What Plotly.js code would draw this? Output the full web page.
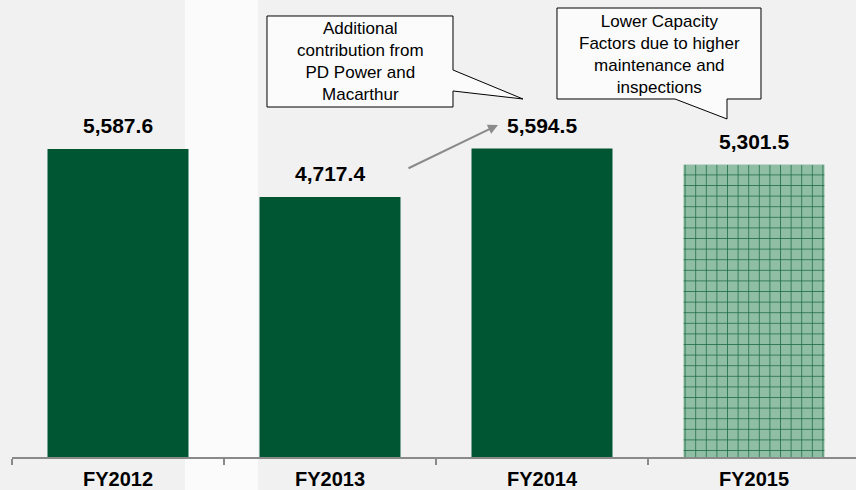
<!DOCTYPE html>
<html>
<head>
<meta charset="utf-8">
<script src="https://cdn.plot.ly/plotly-3.0.1.min.js"></script>
<style>html,body{margin:0;padding:0;background:#f1f1f1;}#chart{width:856px;height:490px;}</style>
</head>
<body>
<div id="chart"></div>
<script>
var categories = ["FY2012", "FY2013", "FY2014", "FY2015"];
var values = [5587.6, 4717.4, 5594.5, 5301.5];
var valueLabels = ["5,587.6", "4,717.4", "5,594.5", "5,301.5"];
var solidCats = categories.slice(0, 3);
var solidVals = values.slice(0, 3);
var patternCats = categories.slice(3);
var patternVals = values.slice(3);
var note1 = "Additional<br>contribution from<br>PD Power and<br>Macarthur";
var note2 = "Lower Capacity<br>Factors due to higher<br>maintenance and<br>inspections";

var W = 856, H = 490, L = 12, B = 33;
var PW = W - L, PH = H - B;
function px(x){ return (x - L) / PW; }
function py(y){ return (PH - y) / PH; }
function path(pts){
  return pts.map(function(p,i){ return (i ? "L" : "M") + px(p[0]).toFixed(5) + "," + py(p[1]).toFixed(5); }).join(" ") + " Z";
}

var FONT = "Liberation Sans, Arial, sans-serif";
var green = "#005632";

var traces = [
  {type: "bar", x: solidCats, y: solidVals, marker: {color: green}, hoverinfo: "skip", showlegend: false},
  {type: "bar", x: patternCats, y: patternVals, hoverinfo: "skip", showlegend: false,
   marker: {color: "#1d6a45", pattern: {shape: "+", size: 10.6, solidity: 0.14, fgcolor: "#1d6a45", bgcolor: "#8fbea4", fillmode: "replace"}}}
];

var annotations = categories.map(function(c, i){
  return {x: c, y: values[i], xref: "x", yref: "y", text: valueLabels[i], showarrow: false,
          yanchor: "middle", yshift: 23, font: {family: FONT, size: 21, color: "#000", weight: "bold"}};
});
annotations.push({xref: "paper", yref: "paper", x: px(360), y: py(62), text: note1, showarrow: false,
  xanchor: "center", yanchor: "middle", font: {family: FONT, size: 17, color: "#000"}});
annotations.push({xref: "paper", yref: "paper", x: px(659), y: py(54), text: note2, showarrow: false,
  xanchor: "center", yanchor: "middle", font: {family: FONT, size: 17, color: "#000"}});
annotations.push({xref: "paper", yref: "paper", x: px(498), y: py(125), axref: "pixel", ayref: "pixel",
  ax: 407 - 498, ay: 169 - 125, text: "", showarrow: true, arrowhead: 2, arrowsize: 1, arrowwidth: 2, arrowcolor: "#8a8a8a"});

var shapes = [
  {type: "rect", xref: "paper", yref: "paper", x0: px(185), x1: px(258), y0: py(490), y1: py(0),
   fillcolor: "rgba(255,255,255,0.7)", line: {width: 0}, layer: "below"},
  {type: "path", xref: "paper", yref: "paper",
   path: path([[267,16],[453,16],[453,70],[523,99],[453,91],[453,107],[267,107]]),
   fillcolor: "#fbfbfb", line: {color: "#000", width: 1}},
  {type: "path", xref: "paper", yref: "paper",
   path: path([[557,8],[761,8],[761,99],[727,99],[727,119],[675,99],[557,99]]),
   fillcolor: "#fbfbfb", line: {color: "#000", width: 1}}
];

var layout = {
  width: W, height: H,
  margin: {l: L, r: 0, t: 0, b: B, pad: 0},
  paper_bgcolor: "#f1f1f1", plot_bgcolor: "rgba(0,0,0,0)",
  bargap: 0.335, barmode: "group",
  xaxis: {type: "category", categoryorder: "array", categoryarray: categories,
    range: [-0.5, -0.5 + PW / 212], showgrid: false, zeroline: false,
    showline: true, linecolor: "#8a8a8a", linewidth: 2,
    ticks: "outside", tickson: "boundaries", ticklen: 6, tickwidth: 2, tickcolor: "#8a8a8a",
    ticklabelstandoff: 3,
    tickfont: {family: FONT, size: 20, color: "#000", weight: "bold"}, fixedrange: true},
  yaxis: {range: [0, 8290], visible: false, fixedrange: true},
  annotations: annotations,
  shapes: shapes,
  font: {family: FONT}
};

Plotly.newPlot("chart", traces, layout, {displayModeBar: false, staticPlot: true});
</script>
</body>
</html>
